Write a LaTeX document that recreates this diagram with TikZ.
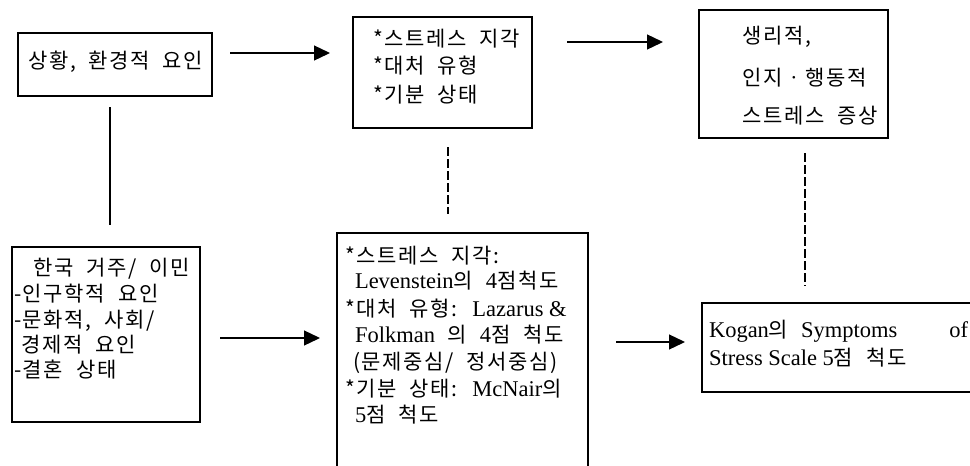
\documentclass[tikz,border=0pt]{standalone}
\usepackage{fontspec}
\setmainfont{Noto Sans CJK KR}[LetterSpace=8, WordSpace=2.0]
\newfontfamily\latf{Liberation Serif}
\newcommand\latx[1]{{\latf\fontsize{22.5}{24}\selectfont #1}}
\usetikzlibrary{arrows.meta}
\tikzset{
  box/.style={draw, line width=2pt, outer sep=0pt, inner sep=0pt},
  txt/.style={anchor=base west, inner sep=0pt, outer sep=0pt},
  arr/.style={line width=1.3pt, -{Triangle[length=16pt,width=15pt]}},
  solidline/.style={line width=2pt},
  dashline/.style={line width=2pt, dash pattern=on 9pt off 3pt},
  every node/.style={font=\fontsize{21}{24}\selectfont}
}
\begin{document}
\begin{tikzpicture}[x=1pt,y=-1pt]
\useasboundingbox (0,0) rectangle (970,466);
\clip (0,0) rectangle (970,466);
\fill[white] (0,0) rectangle (970,466);
% boxes
\node[box, minimum width=194pt, minimum height=63pt] (b1) at (115,64.5) {};
\node[box, minimum width=179pt, minimum height=111pt] (b2) at (442.5,72.5) {};
\node[box, minimum width=189pt, minimum height=128pt] (b3) at (793.5,74) {};
\node[box, minimum width=188pt, minimum height=175pt] (b4) at (106,334.5) {};
\node[box, minimum width=251pt, minimum height=247pt] (b5) at (462.5,356.5) {};
\node[box, minimum width=283pt, minimum height=89pt] (b6) at (843.5,347.5) {};
% texts
\node[txt] (t1) at (28,68) {상황, 환경적 요인};
\node[txt] (t2a) at (373,46) {*스트레스 지각};
\node[txt] (t2b) at (373,73) {*대처 유형};
\node[txt] (t2c) at (373,102) {*기분 상태};
\node[txt] (t3a) at (742,43) {생리적,};
\node[txt] (t3b) at (742,85) {인지ㆍ행동적};
\node[txt] (t3c) at (742,123) {스트레스 증상};
\node[txt] (t4a) at (33,275) {한국 거주/ 이민};
\node[txt] (t4b) at (14,301) {-인구학적 요인};
\node[txt] (t4c) at (14,327) {-문화적, 사회/};
\node[txt] (t4d) at (21,352) {경제적 요인};
\node[txt] (t4e) at (14,377) {-결혼 상태};
\node[txt] (t5a) at (345,263) {*스트레스 지각:};
\node[txt] (t5b) at (355,288) {\latx{Levenstein}의 \latx{4}점척도};
\node[txt] (t5c) at (345,316) {*대처 유형: \latx{Lazarus \&}};
\node[txt] (t5d) at (355,342) {\latx{Folkman} 의 \latx{4}점 척도};
\node[txt] (t5e) at (353,369) {(문제중심/ 정서중심)};
\node[txt] (t5f) at (345,396) {*기분 상태: \latx{McNair}의};
\node[txt] (t5g) at (355,422) {\latx{5}점 척도};
\node[txt] (t6a) at (709,337) {\makebox[259pt][l]{\latx{Kogan}의 \latx{Symptoms}\hfill\latx{of}}};
\node[txt] (t6b) at (709,365) {\latx{Stress Scale 5}점 척도};
% connectors
\draw[arr] ([xshift=18pt,yshift=11.5pt]b1.east) -- ([xshift=-23pt,yshift=19.5pt]b2.west);
\draw[arr] ([xshift=35pt,yshift=30.5pt]b2.east) -- ([xshift=-36pt,yshift=32pt]b3.west);
\draw[solidline] ([xshift=-5pt,yshift=-11pt]b1.south) -- ([xshift=4pt,yshift=22pt]b4.north);
\draw[dashline] ([xshift=5.5pt,yshift=-19pt]b2.south) -- ([xshift=-14.5pt,yshift=19pt]b5.north);
\draw[dashline] ([xshift=11.5pt,yshift=-15pt]b3.south) -- ([xshift=-38.5pt,yshift=17pt]b6.north);
\draw[arr] ([xshift=20pt,yshift=-3.5pt]b4.east) -- ([xshift=-17pt,yshift=18.5pt]b5.west);
\draw[arr] ([xshift=28pt,yshift=14.5pt]b5.east) -- ([xshift=-17pt,yshift=5.5pt]b6.west);
\end{tikzpicture}
\end{document}
